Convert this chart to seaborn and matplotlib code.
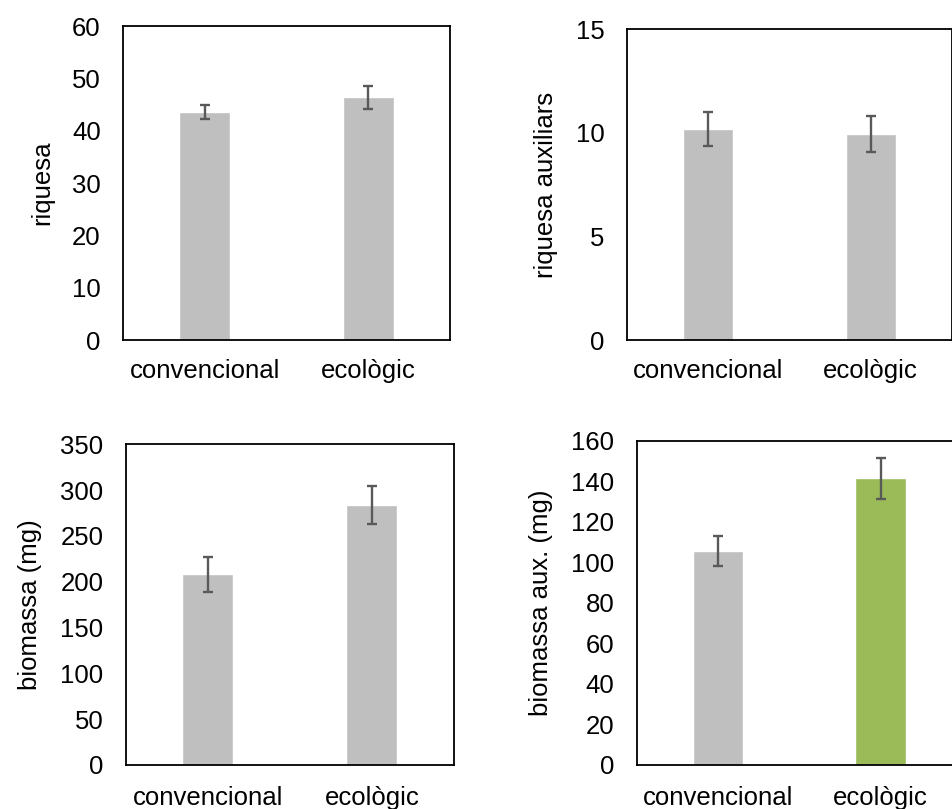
import matplotlib
matplotlib.use("Agg")
import matplotlib.pyplot as plt
import seaborn as sns
import pandas as pd
import numpy as np

categories = ["convencional", "ecològic"]

riquesa = [43.6, 46.4]
riquesa_err = [1.4, 2.2]

riquesa_aux = [10.18, 9.95]
riquesa_aux_err = [0.83, 0.87]

biomassa = [208, 284]
biomassa_err = [19, 21]

biomassa_aux = [105.6, 141.4]
biomassa_aux_err = [7.6, 10.0]

panels = [
    dict(vals=riquesa, errs=riquesa_err, label="riquesa", ylim=(0, 60), ticks=np.arange(0, 61, 10),
         pos=[0.1291, 0.5797, 0.3431, 0.3881], colors=["#BFBFBF", "#BFBFBF"], xpad=14),
    dict(vals=riquesa_aux, errs=riquesa_aux_err, label="riquesa auxiliars", ylim=(0, 15), ticks=np.arange(0, 16, 5),
         pos=[0.6579, 0.5797, 0.3410, 0.3841], colors=["#BFBFBF", "#BFBFBF"], xpad=14),
    dict(vals=biomassa, errs=biomassa_err, label="biomassa (mg)", ylim=(0, 350), ticks=np.arange(0, 351, 50),
         pos=[0.1319, 0.0544, 0.3445, 0.3964], colors=["#BFBFBF", "#BFBFBF"], xpad=15),
    dict(vals=biomassa_aux, errs=biomassa_aux_err, label="biomassa aux. (mg)", ylim=(0, 160), ticks=np.arange(0, 161, 20),
         pos=[0.6681, 0.0544, 0.3414, 0.4009], colors=["#BFBFBF", "#9BBB59"], xpad=15),
]

sns.set_theme(style="white")
plt.rcParams["font.family"] = ["Liberation Sans", "DejaVu Sans"]

fig = plt.figure(figsize=(9.53, 8.09), dpi=100)
fig.patch.set_facecolor("white")

for p in panels:
    ax = fig.add_axes(p["pos"])
    df = pd.DataFrame({"cat": categories, "val": p["vals"]})
    sns.barplot(data=df, x="cat", y="val", hue="cat", palette=p["colors"], legend=False,
                width=0.31, ax=ax, saturation=1, errorbar=None)
    ax.errorbar(x=np.arange(len(categories)), y=p["vals"], yerr=p["errs"], fmt="none",
                ecolor="#595959", elinewidth=1.7, capsize=3.6, capthick=1.7, zorder=5)
    ax.set_xlim(-0.5, 1.5)
    ax.set_ylim(*p["ylim"])
    ax.set_yticks(p["ticks"])
    ax.set_xlabel("")
    ax.set_ylabel(p["label"], fontsize=18.5, labelpad=13, color="#000000")
    ax.tick_params(axis="both", length=0, labelsize=18.5, colors="#000000")
    ax.tick_params(axis="y", pad=16)
    ax.tick_params(axis="x", pad=p["xpad"])
    for s in ax.spines.values():
        s.set_visible(True)
        s.set_color("#000000")
        s.set_linewidth(1.3)
    ax.set_facecolor("white")

fig.savefig("out.png", dpi=100, facecolor="white")
